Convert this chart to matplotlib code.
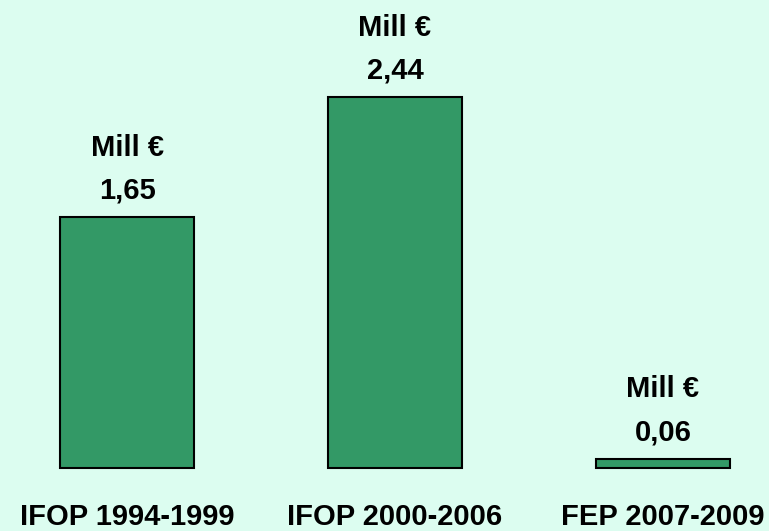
import matplotlib
matplotlib.use("Agg")
import matplotlib.pyplot as plt

categories = ["IFOP 1994-1999", "IFOP 2000-2006", "FEP 2007-2009"]
values = [1.65, 2.44, 0.06]
value_labels = ["1,65", "2,44", "0,06"]
unit_label = "Mill €"

plt.rcParams['font.family'] = ['Liberation Sans', 'DejaVu Sans']
bg = "#DCFDF0"
fig = plt.figure(figsize=(7.69, 5.31), dpi=100, facecolor=bg)
ax = fig.add_axes([0, 0, 1, 1], facecolor=bg)

x = list(range(len(categories)))
ax.bar(x, values, width=0.5, color="#339966", edgecolor="black", linewidth=1.5)

fs = 21
for xi, v, lab in zip(x, values, value_labels):
    ax.annotate(lab, (xi, v), xytext=(0, 19), textcoords="offset points",
                ha="center", va="center", fontsize=fs, fontweight="bold")
    ax.annotate(unit_label, (xi, v), xytext=(0, 50), textcoords="offset points",
                ha="center", va="center", fontsize=fs, fontweight="bold")
    ax.annotate(categories[xi], (xi, 0), xytext=(0, -35), textcoords="offset points",
                ha="center", va="center", fontsize=fs, fontweight="bold")

ax.set_xlim(-0.474, 2.396)
ax.set_ylim(-0.4145, 3.079)
ax.axis("off")

fig.savefig("out.png", dpi=100, facecolor=bg)
